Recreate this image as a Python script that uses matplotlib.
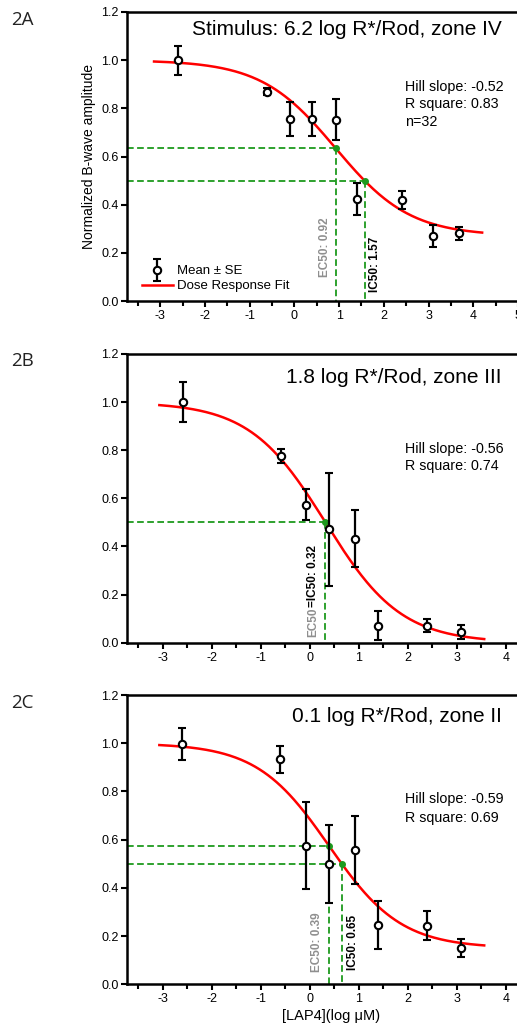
import numpy as np
import matplotlib
matplotlib.use('Agg')
import matplotlib.pyplot as plt
from matplotlib.ticker import FormatStrFormatter, MultipleLocator
from matplotlib.container import ErrorbarContainer
from matplotlib.legend_handler import HandlerErrorbar

plt.rcParams['font.family'] = ['Liberation Sans', 'DejaVu Sans']
plt.rcParams['axes.unicode_minus'] = False

W, H = 517, 1032

# ---------------- data ----------------
# Panel 2A : 6.2 log R*/Rod, zone IV
xA = [-2.61, -0.62, -0.09, 0.39, 0.92, 1.39, 2.40, 3.09, 3.69]
yA = [1.000, 0.869, 0.757, 0.757, 0.753, 0.424, 0.418, 0.270, 0.281]
eA = [0.060, 0.015, 0.070, 0.070, 0.085, 0.066, 0.038, 0.046, 0.026]
fitA = dict(top=1.0, bottom=0.27, logec50=0.92, slope=-0.52)
ec50A, ic50A = 0.92, 1.57
rangeA = (-3.14, 4.20)

# Panel 2B : 1.8 log R*/Rod, zone III
xB = [-2.59, -0.59, -0.08, 0.40, 0.93, 1.39, 2.40, 3.09]
yB = [1.000, 0.776, 0.574, 0.472, 0.432, 0.071, 0.071, 0.043]
eB = [0.083, 0.030, 0.063, 0.235, 0.119, 0.060, 0.028, 0.029]
fitB = dict(top=1.0, bottom=0.0, logec50=0.32, slope=-0.56)
ec50B = 0.32
rangeB = (-3.07, 3.56)

# Panel 2C : 0.1 log R*/Rod, zone II
xC = [-2.60, -0.60, -0.08, 0.39, 0.925, 1.39, 2.39, 3.09]
yC = [0.997, 0.933, 0.575, 0.498, 0.559, 0.245, 0.243, 0.151]
eC = [0.065, 0.056, 0.181, 0.162, 0.141, 0.100, 0.061, 0.037]
fitC = dict(top=1.0, bottom=0.15, logec50=0.39, slope=-0.59)
ec50C, ic50C = 0.39, 0.65
rangeC = (-3.07, 3.56)

xticksA = [-3, -2, -1, 0, 1, 2, 3, 4, 5]
xticksBC = [-3, -2, -1, 0, 1, 2, 3, 4]

titles = ['Stimulus: 6.2 log R*/Rod, zone IV', '1.8 log R*/Rod, zone III',
          '0.1 log R*/Rod, zone II']
stats = [['Hill slope: -0.52', 'R square: 0.83', 'n=32'],
         ['Hill slope: -0.56', 'R square: 0.74'],
         ['Hill slope: -0.59', 'R square: 0.69']]
panel_labels = ['2A', '2B', '2C']


def hill(x, top, bottom, logec50, slope):
    x = np.asarray(x, dtype=float)
    return bottom + (top - bottom) / (1 + 10 ** ((logec50 - x) * slope))


GREEN = '#1e9a1e'
GRAY = '#8f8f8f'
DASH = (0, (3.7, 1.9))

fig = plt.figure(figsize=(W / 100, H / 100), dpi=100)


def px_axes(left, top, bottom, xlim, ppu):
    width = (xlim[1] - xlim[0]) * ppu
    return fig.add_axes([left / W, 1 - bottom / H, width / W, (bottom - top) / H])


def ftext(px, py, s, **kw):
    fig.text(px / W, 1 - py / H, s, **kw)


def setup(ax, xlim, xticks):
    ax.set_xlim(*xlim)
    ax.set_ylim(0, 1.2)
    ax.set_yticks(np.arange(0, 1.21, 0.2))
    ax.yaxis.set_major_formatter(FormatStrFormatter('%.1f'))
    ax.set_xticks(xticks)
    ax.xaxis.set_minor_locator(MultipleLocator(0.5))
    for s in ['left', 'bottom', 'top', 'right']:
        ax.spines[s].set_linewidth(1.8)
    ax.tick_params(which='both', direction='out', width=1.5, labelsize=9, pad=2)
    ax.tick_params(axis='x', which='major', length=4.5)
    ax.tick_params(axis='x', which='minor', length=3.5)
    ax.tick_params(axis='y', which='major', length=4)


def draw(ax, x, y, e, fit, rng, ec_lines):
    x0 = ax.get_xlim()[0]
    for xv in ec_lines:
        yv = float(hill(xv, **fit))
        ax.plot([x0, xv], [yv, yv], color=GREEN, lw=1.3, ls=DASH, zorder=2)
        ax.plot([xv, xv], [yv, 0], color=GREEN, lw=1.3, ls=DASH, zorder=2)
    xc = np.linspace(rng[0], rng[1], 300)
    line, = ax.plot(xc, hill(xc, **fit), color='red', lw=1.8, zorder=3)
    for xv in ec_lines:
        ax.plot([xv], [float(hill(xv, **fit))], 'o', color=GREEN, ms=4, zorder=4)
    eb = ax.errorbar(x, y, yerr=e, fmt='o', mfc='white', mec='black', mew=1.5,
                     ms=5.3, ecolor='black', elinewidth=1.6, capsize=3,
                     capthick=1.6, zorder=5)
    return eb, line


# ---------------- Panel A ----------------
xlimA = (-3.745, 5.6)
axA = px_axes(127, 12, 301, xlimA, 44.7)
setup(axA, xlimA, xticksA)
ebA, lineA = draw(axA, xA, yA, eA, fitA, rangeA, [ec50A, ic50A])
axA.set_ylabel('Normalized B-wave amplitude', fontsize=10, labelpad=4)
axA.annotate('EC50: 0.92', xy=(ec50A, 0.10), xytext=(-3.5, 0), textcoords='offset points',
             rotation=90, ha='right', va='bottom', color=GRAY, fontsize=8.5,
             fontweight='bold')
axA.annotate('IC50: 1.57', xy=(ic50A, 0.039), xytext=(3.5, 0), textcoords='offset points',
             rotation=90, ha='left', va='bottom', color='black', fontsize=8.5,
             fontweight='bold')
axA.legend([ebA, lineA], ['Mean ± SE', 'Dose Response Fit'], loc='lower left',
           bbox_to_anchor=(0.035, 0.03), frameon=False, fontsize=9.5,
           handlelength=2.4, handletextpad=0.3, labelspacing=0.2, borderpad=0,
           borderaxespad=0,
           handler_map={ErrorbarContainer: HandlerErrorbar(xerr_size=0.85)})

# ---------------- Panel B ----------------
xlimB = (-3.73, 4.6)
axB = px_axes(127, 354, 642.7, xlimB, 49.0)
setup(axB, xlimB, xticksBC)
draw(axB, xB, yB, eB, fitB, rangeB, [ec50B])
t1 = axB.annotate('EC50', xy=(ec50B, 0.025), xytext=(-4.5, 0), textcoords='offset points',
                  rotation=90, ha='right', va='bottom', color=GRAY, fontsize=8.5,
                  fontweight='bold')
axB.annotate('=IC50: 0.32', xy=(0.5, 1.0), xycoords=t1, rotation=90, ha='center',
             va='bottom', color='black', fontsize=8.5, fontweight='bold')

# ---------------- Panel C ----------------
xlimC = (-3.73, 4.6)
axC = px_axes(127, 695, 984.3, xlimC, 49.0)
setup(axC, xlimC, xticksBC)
draw(axC, xC, yC, eC, fitC, rangeC, [ec50C, ic50C])
axC.annotate('EC50: 0.39', xy=(ec50C, 0.053), xytext=(-4, 0), textcoords='offset points',
             rotation=90, ha='right', va='bottom', color=GRAY, fontsize=8.5,
             fontweight='bold')
axC.annotate('IC50: 0.65', xy=(ic50C, 0.059), xytext=(4, 0), textcoords='offset points',
             rotation=90, ha='left', va='bottom', color='black', fontsize=8.5,
             fontweight='bold')
axC.set_xlabel('[LAP4](log μM)', fontsize=10.5, labelpad=3)

# ---------------- text ----------------
title_base = [35, 382.7, 722.3]
stat_base = [[90.7, 108.3, 126.0], [452.7, 470.3], [803.3, 821.7]]
label_base = [25, 366, 708.3]
for i in range(3):
    ftext(501.7, title_base[i], titles[i], ha='right', va='baseline', fontsize=15)
    for s, yb in zip(stats[i], stat_base[i]):
        ftext(405, yb, s, ha='left', va='baseline', fontsize=10.3)
    ftext(11.5, label_base[i], panel_labels[i], ha='left', va='baseline', fontsize=13.5,
          family=['Open Sans', 'DejaVu Sans'], color='#222222')

fig.savefig('out.png', dpi=100)
